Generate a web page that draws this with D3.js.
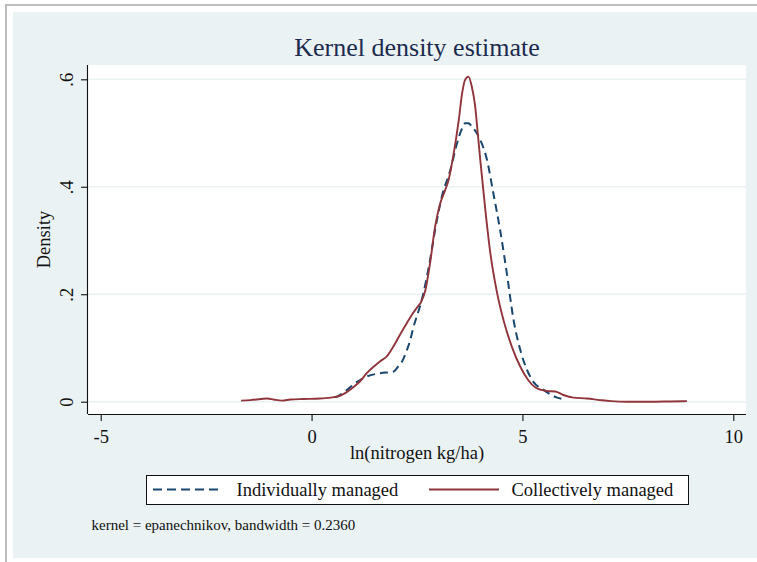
<!DOCTYPE html>
<html>
<head>
<meta charset="utf-8">
<script src="https://cdn.jsdelivr.net/npm/d3@7"></script>
<style>
  html, body { margin: 0; padding: 0; background: #fff; }
  svg { display: block; font-family: "Liberation Serif", "Times New Roman", serif; }
  .grid line { stroke: #eaf2f3; stroke-width: 1.5; }
  .axis path, .axis line { stroke: #111; stroke-width: 1.1; }
  .axis text { fill: #111; font-size: 18.5px; font-family: "Liberation Serif", serif; }
</style>
</head>
<body>
<div id="viz"></div>
<script>
// series: [x, density]
const seriesNames = ["Individually managed", "Collectively managed"];
const seriesColors = ["#1a476f", "#90353b"];

const individualDensity = [
  [0.55, 0.008], [0.64, 0.011], [0.84, 0.022], [1.08, 0.037], [1.31, 0.047],
  [1.63, 0.053], [1.94, 0.056], [2.05, 0.065], [2.14, 0.074], [2.26, 0.096],
  [2.34, 0.115], [2.42, 0.140], [2.50, 0.160], [2.58, 0.180], [2.66, 0.205],
  [2.81, 0.264], [2.93, 0.320], [3.09, 0.382], [3.29, 0.431], [3.45, 0.481],
  [3.55, 0.505], [3.64, 0.518], [3.72, 0.518], [3.80, 0.512], [3.90, 0.502],
  [4.00, 0.487], [4.16, 0.450], [4.31, 0.388], [4.47, 0.320], [4.63, 0.239],
  [4.79, 0.152], [4.95, 0.096], [5.11, 0.059], [5.26, 0.037], [5.50, 0.022],
  [5.70, 0.012], [5.82, 0.0075], [5.95, 0.005]
];

const collectiveDensity = [
  [-1.67, 0.002], [-1.45, 0.003], [-1.2, 0.005], [-1.05, 0.006], [-0.9, 0.004],
  [-0.7, 0.002], [-0.5, 0.004], [-0.2, 0.005], [0.2, 0.006], [0.5, 0.008],
  [0.7, 0.012], [0.96, 0.025], [1.15, 0.038], [1.31, 0.053], [1.47, 0.065],
  [1.62, 0.075], [1.79, 0.085], [1.95, 0.104], [2.10, 0.125], [2.25, 0.145],
  [2.38, 0.162], [2.50, 0.175], [2.60, 0.186], [2.70, 0.208], [2.81, 0.258],
  [2.93, 0.326], [3.05, 0.369], [3.15, 0.390], [3.25, 0.413], [3.37, 0.462],
  [3.49, 0.524], [3.57, 0.574], [3.64, 0.599], [3.72, 0.605], [3.80, 0.586],
  [3.88, 0.549], [3.94, 0.500], [4.00, 0.450], [4.12, 0.357], [4.24, 0.276],
  [4.40, 0.202], [4.55, 0.152], [4.75, 0.102], [4.95, 0.065], [5.14, 0.040],
  [5.34, 0.025], [5.58, 0.020], [5.78, 0.019], [5.97, 0.0125], [6.21, 0.0075],
  [6.53, 0.006], [6.84, 0.003], [7.1, 0.001], [7.5, 0.0], [8.0, 0.0],
  [8.5, 0.0005], [8.9, 0.001]
];

const xTicks = [-5, 0, 5, 10];
const xTickLabels = ["-5", "0", "5", "10"];
const yTicks = [0, 0.2, 0.4, 0.6];
const yTickLabels = ["0", ".2", ".4", ".6"];

const titleText = "Kernel density estimate";
const xTitle = "ln(nitrogen kg/ha)";
const yTitle = "Density";
const noteText = "kernel = epanechnikov, bandwidth = 0.2360";

const W = 757;
const H = 562;
const plot = { left: 88, right: 746, top: 65, bottom: 414 };

const svg = d3.select("#viz").append("svg").attr("width", W).attr("height", H);

// outer frame + graph region
svg.append("rect").attr("x", 13).attr("y", 12).attr("width", W - 13).attr("height", 546)
  .attr("fill", "#eaf2f3");
svg.append("line").attr("x1", 5).attr("x2", W).attr("y1", 5).attr("y2", 5)
  .attr("stroke", "#a8a8a8").attr("stroke-width", 1.5);
svg.append("line").attr("x1", 6).attr("x2", 6).attr("y1", 5).attr("y2", H)
  .attr("stroke", "#a8a8a8").attr("stroke-width", 1.5);

// plot region
svg.append("rect")
  .attr("x", plot.left).attr("y", plot.top)
  .attr("width", plot.right - plot.left).attr("height", plot.bottom - plot.top)
  .attr("fill", "#fff");

const x = d3.scaleLinear().domain([-5, 10]).range([100.7, 733.3]);
const y = d3.scaleLinear().domain([0, 0.6]).range([401.7, 79.3]);

svg.append("g").attr("class", "grid")
  .selectAll("line").data(yTicks).join("line")
  .attr("x1", plot.left).attr("x2", plot.right)
  .attr("y1", (d) => y(d)).attr("y2", (d) => y(d));

const line = d3.line()
  .x((d) => x(d[0]))
  .y((d) => y(d[1]))
  .curve(d3.curveMonotoneX);

svg.append("path").datum(individualDensity)
  .attr("d", line).attr("fill", "none")
  .attr("stroke", seriesColors[0]).attr("stroke-width", 2)
  .attr("stroke-dasharray", "8,5");

svg.append("path").datum(collectiveDensity)
  .attr("d", line).attr("fill", "none")
  .attr("stroke", seriesColors[1]).attr("stroke-width", 1.9);

// axes
const xAxis = svg.append("g").attr("class", "axis")
  .attr("transform", `translate(0,${plot.bottom})`)
  .call(d3.axisBottom(x).tickValues(xTicks).tickSize(7).tickSizeOuter(0)
    .tickFormat((d, i) => xTickLabels[i]));
xAxis.select(".domain").attr("d", `M${plot.left},0.5H${plot.right}`);
xAxis.selectAll("text").attr("dy", "0.71em").attr("y", 16);

const yAxis = svg.append("g").attr("class", "axis")
  .attr("transform", `translate(${plot.left},0)`)
  .call(d3.axisLeft(y).tickValues(yTicks).tickSize(7).tickSizeOuter(0)
    .tickFormat((d, i) => yTickLabels[i]));
yAxis.select(".domain").attr("d", `M-0.5,${plot.top}V${plot.bottom}`);
yAxis.selectAll(".tick text")
  .attr("x", null).attr("dy", null)
  .attr("text-anchor", "middle")
  .attr("transform", "translate(-15,0) rotate(-90)");

// titles
svg.append("text")
  .attr("x", (plot.left + plot.right) / 2).attr("y", 56)
  .attr("text-anchor", "middle")
  .attr("font-size", 26).attr("fill", "#1c2a4f")
  .text(titleText);

svg.append("text")
  .attr("x", (plot.left + plot.right) / 2).attr("y", 459)
  .attr("text-anchor", "middle")
  .attr("font-size", 18.5).attr("fill", "#111")
  .text(xTitle);

svg.append("text")
  .attr("transform", `translate(50,${(plot.top + plot.bottom) / 2}) rotate(-90)`)
  .attr("text-anchor", "middle")
  .attr("font-size", 18.5).attr("fill", "#111")
  .text(yTitle);

// legend
const legend = svg.append("g");
legend.append("rect")
  .attr("x", 146.5).attr("y", 475.5).attr("width", 542).attr("height", 29)
  .attr("fill", "#fff").attr("stroke", "#111").attr("stroke-width", 1);

const legendItems = [
  { x1: 153, x2: 220, tx: 236.5, dash: "9,5" },
  { x1: 429, x2: 499, tx: 511.5, dash: null }
];
legendItems.forEach((it, i) => {
  legend.append("line")
    .attr("x1", it.x1).attr("x2", it.x2).attr("y1", 489.5).attr("y2", 489.5)
    .attr("stroke", seriesColors[i]).attr("stroke-width", 2)
    .attr("stroke-dasharray", it.dash);
  legend.append("text")
    .attr("x", it.tx).attr("y", 496)
    .attr("font-size", 18.5).attr("fill", "#111")
    .text(seriesNames[i]);
});

svg.append("text")
  .attr("x", 91.5).attr("y", 530)
  .attr("font-size", 15).attr("fill", "#111")
  .text(noteText);
</script>
</body>
</html>
